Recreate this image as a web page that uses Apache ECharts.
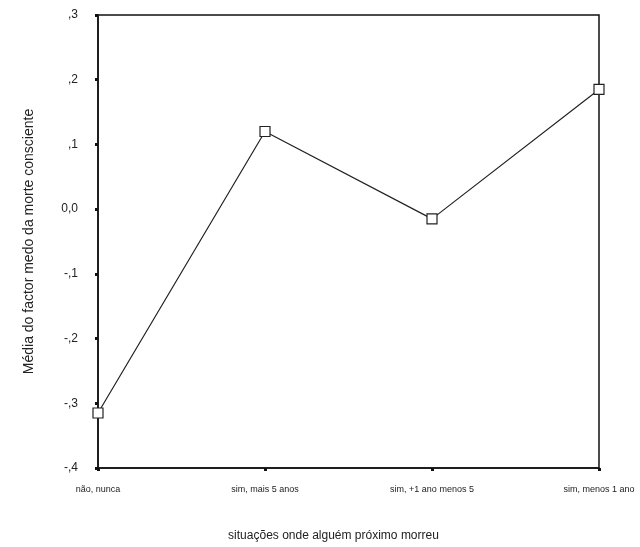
<!DOCTYPE html>
<html>
<head>
<meta charset="utf-8">
<script src="https://cdn.jsdelivr.net/npm/echarts@6/dist/echarts.min.js"></script>
<style>
html,body{margin:0;padding:0;background:#fff;}
#chart{width:640px;height:547px;}
</style>
</head>
<body>
<div id="chart"></div>
<script>
var categories = ['não, nunca', 'sim, mais 5 anos', 'sim, +1 ano menos 5', 'sim, menos 1 ano'];
var meanValues = [-0.315, 0.12, -0.015, 0.185];
var yTicks = [-0.4, -0.3, -0.2, -0.1, 0, 0.1, 0.2, 0.3];
var xTitle = 'situações onde alguém próximo morreu';
var yTitle = 'Média do factor medo da morte consciente';

function fmt(v) {
  var r = Math.round(v * 10) / 10;
  if (r === 0) return '0,0';
  var s = Math.abs(r).toFixed(1).replace('0.', ',');
  return (r < 0 ? '-' : '') + s;
}

var chart = echarts.init(document.getElementById('chart'));
chart.setOption({
  animation: false,
  backgroundColor: '#fff',
  grid: {
    left: 98, right: 41, top: 15, bottom: 76,
    show: true, borderColor: '#111', borderWidth: 1.5, backgroundColor: 'transparent'
  },
  xAxis: {
    type: 'category',
    data: categories,
    boundaryGap: false,
    name: xTitle,
    nameLocation: 'middle',
    nameGap: 62,
    nameTextStyle: { fontFamily: 'Liberation Sans', fontSize: 12, color: '#222', padding: [0, 30, 0, 0] },
    axisLine: { onZero: false, lineStyle: { color: '#111', width: 1.5 } },
    axisTick: { show: true, length: 3, lineStyle: { color: '#111', width: 3 } },
    axisLabel: { fontFamily: 'Liberation Sans', fontSize: 9, color: '#222', margin: 17, interval: 0 },
    splitLine: { show: false }
  },
  yAxis: {
    type: 'value',
    min: yTicks[0],
    max: yTicks[yTicks.length - 1],
    interval: 0.1,
    name: yTitle,
    nameLocation: 'middle',
    nameGap: 62,
    nameTextStyle: { fontFamily: 'Liberation Sans', fontSize: 14, color: '#222' },
    axisLine: { show: true, onZero: false, lineStyle: { color: '#111', width: 1.5 } },
    axisTick: { show: true, length: 3, lineStyle: { color: '#111', width: 3 } },
    axisLabel: { fontFamily: 'Liberation Sans', fontSize: 12, color: '#222', margin: 20, formatter: fmt },
    splitLine: { show: false }
  },
  series: [{
    type: 'line',
    data: meanValues,
    symbol: 'rect',
    symbolSize: 10,
    showAllSymbol: true,
    lineStyle: { color: '#222', width: 1.2 },
    itemStyle: { color: '#fff', borderColor: '#222', borderWidth: 1.2 },
    z: 5
  }]
});
</script>
</body>
</html>
